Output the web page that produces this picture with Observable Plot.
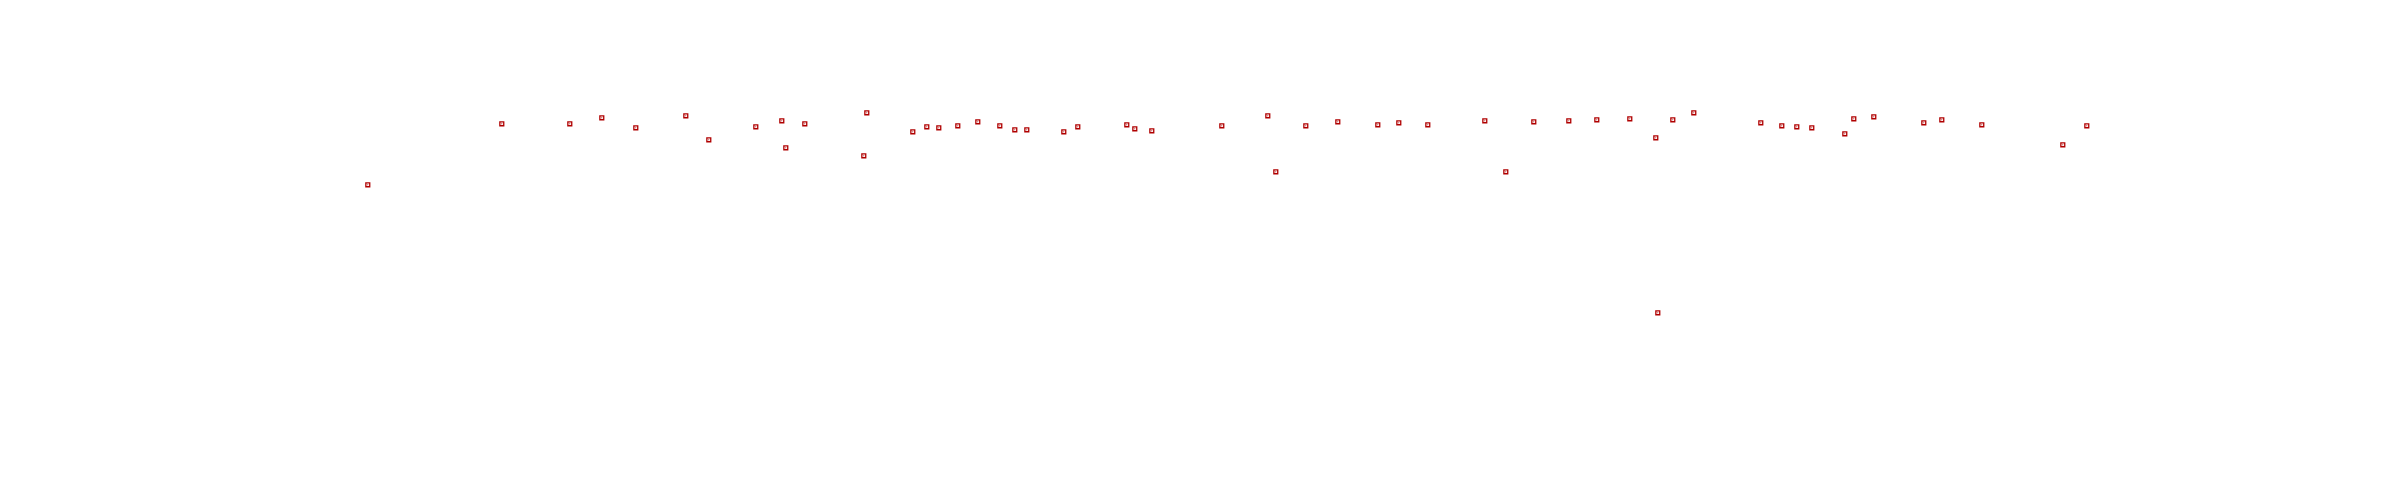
<!DOCTYPE html>
<html>
<head>
<meta charset="utf-8">
<script src="https://cdn.jsdelivr.net/npm/d3@7"></script>
<script src="https://cdn.jsdelivr.net/npm/@observablehq/plot@0.6"></script>
<style>
  html, body { margin: 0; padding: 0; background: #fff; }
  #chart svg { display: block; }
</style>
</head>
<body>
<div id="chart"></div>
<script>
const xValues = [0,134,202,234,268,318,341,388,414,418,437,496,499,545,559,571,590,610,632,647,659,696,710,759,767,784,854,900,908,938,970,1010,1031,1060,1117,1138,1166,1201,1229,1262,1288,1290,1305,1326,1393,1414,1429,1444,1477,1486,1506,1556,1574,1614,1695,1719];
const yValues = [128,189,189,195,185,197,173,186,192,165,189,157,200,181,186,185,187,191,187,183,183,181,186,188,184,182,187,197,141,187,191,188,190,188,192,141,191,192,193,194,175,0,193,200,190,187,186,185,179,194,196,190,193,188,168,187];

const data = xValues.map((x, i) => ({x, y: yValues[i]}));

const chart = Plot.plot({
  width: 2407,
  height: 500,
  marginLeft: 367.3,
  marginRight: 320.7,
  marginTop: 112.3,
  marginBottom: 187.7,
  x: {domain: [0, 1719], axis: null},
  y: {domain: [0, 200], axis: null},
  style: {background: "#fff"},
  marks: [
    Plot.dot(data, {x: "x", y: "y", symbol: "square", r: 2.2, stroke: "#b00000", strokeWidth: 1.3, fill: "none"}),
    Plot.dot(data, {x: "x", y: "y", r: 0.55, fill: "#b00000", stroke: "none"})
  ]
});
document.getElementById("chart").appendChild(chart);
</script>
</body>
</html>
